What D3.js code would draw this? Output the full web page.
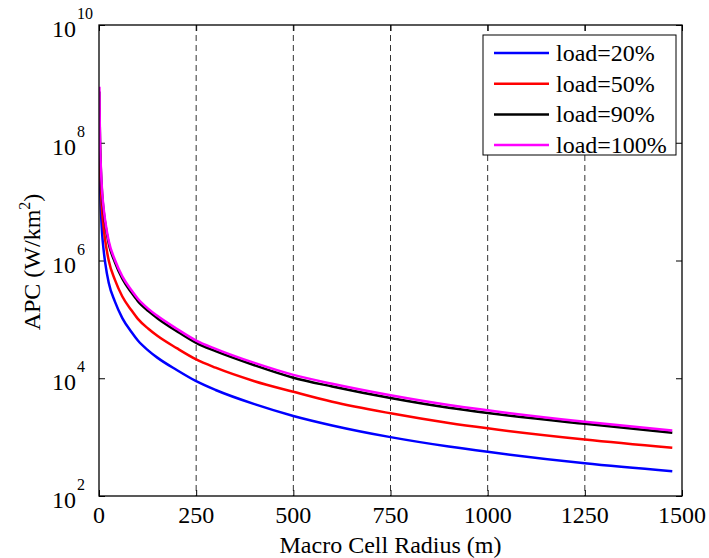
<!DOCTYPE html>
<html><head><meta charset="utf-8">
<script src="https://cdn.jsdelivr.net/npm/d3@7"></script>
<style>
body{margin:0;background:#fff;}
svg{display:block;}
svg text{font-family:"Liberation Serif","DejaVu Serif",serif;}
</style></head>
<body><svg id="chart" width="709" height="558" font-family="Liberation Serif, DejaVu Serif, serif"></svg>
<script>
const radius = [1,2,3,5,8,12,16,25,41,60,84,100,127,150,200,250,300,400,500,600,750,900,1000,1250,1475];
const load20 = [1.58e8,3.98e7,1.78e7,6.92e6,2.88e6,1.48e6,9.12e5,4.17e5,2.0e5,1.05e5,6.03e4,4.37e4,2.95e4,2.24e4,1.38e4,8.91e3,6.31e3,3.63e3,2.29e3,1.58e3,1.0e3,692,562,359,263];
const load50 = [3.98e8,1.0e8,4.27e7,1.66e7,6.92e6,3.55e6,2.19e6,1.0e6,4.68e5,2.45e5,1.41e5,1.02e5,6.92e4,5.25e4,3.24e4,2.09e4,1.51e4,8.91e3,5.89e3,3.98e3,2.54e3,1.74e3,1.41e3,912,661];
const load90 = [7.41e8,1.86e8,8.32e7,3.24e7,1.35e7,6.92e6,4.27e6,1.95e6,9.33e5,4.9e5,2.82e5,2.04e5,1.38e5,1.05e5,6.31e4,3.98e4,2.88e4,1.66e4,1.02e4,7.24e3,4.62e3,3.16e3,2.57e3,1.68e3,1.19e3];
const load100 = [8.91e8,2.09e8,9.12e7,3.55e7,1.48e7,7.59e6,4.68e6,2.14e6,1.02e6,5.37e5,3.09e5,2.24e5,1.51e5,1.15e5,6.92e4,4.37e4,3.16e4,1.82e4,1.14e4,8.04e3,5.13e3,3.51e3,2.85e3,1.82e3,1.29e3];
const seriesNames = ["load=20%","load=50%","load=90%","load=100%"];
const seriesColors = ["#0000ff","#ff0000","#000000","#ff00ff"];
const xTicks = [0,250,500,750,1000,1250,1500];
const gridTicks = [250,500,750,1000,1250];
const yTicks = [1e2,1e4,1e6,1e8,1e10];
const yExponents = ["2","4","6","8","10"];
const xLabel = "Macro Cell Radius (m)";

const FONT = "Liberation Serif, DejaVu Serif, serif";
const FS = 24, SUP = 16;
const svg = d3.select("#chart");
const L=99, R=682, T=25, B=496;
const x = d3.scaleLinear().domain([0,1500]).range([L,R]);
const y = d3.scaleLog().domain([1e2,1e10]).range([B,T]);

svg.append("defs").append("clipPath").attr("id","clip")
  .append("rect").attr("x",L).attr("y",T).attr("width",R-L).attr("height",B-T);

// grid
svg.append("g").selectAll("line").data(gridTicks).join("line")
  .attr("x1",d=>x(d)).attr("x2",d=>x(d)).attr("y1",T).attr("y2",B)
  .attr("stroke","#333").attr("stroke-width",1).attr("stroke-dasharray","6,4");

// axes with inward ticks
const tl = 6;
function styleAxis(g){ g.select(".domain").remove(); g.selectAll(".tick line").attr("stroke","#000").attr("stroke-width",1); g.selectAll(".tick text").remove(); }
svg.append("g").attr("transform",`translate(0,${B})`).call(d3.axisBottom(x).tickValues(xTicks).tickSize(-tl)).call(styleAxis);
svg.append("g").attr("transform",`translate(0,${T})`).call(d3.axisTop(x).tickValues(xTicks).tickSize(-tl)).call(styleAxis);
svg.append("g").attr("transform",`translate(${L},0)`).call(d3.axisLeft(y).tickValues(yTicks).tickSize(-tl)).call(styleAxis);
svg.append("g").attr("transform",`translate(${R},0)`).call(d3.axisRight(y).tickValues(yTicks).tickSize(-tl)).call(styleAxis);

// lines
const series = [load20,load50,load90,load100];
const line = d3.line().x((d,i)=>x(radius[i])).y(d=>y(d)).curve(d3.curveMonotoneX);
const lg = svg.append("g").attr("clip-path","url(#clip)");
series.forEach((s,k)=>{
  lg.append("path").datum(s).attr("d",line).attr("fill","none")
    .attr("stroke",seriesColors[k]).attr("stroke-width",2.5).attr("stroke-linejoin","round");
});

// frame
svg.append("rect").attr("x",L).attr("y",T).attr("width",R-L).attr("height",B-T)
  .attr("fill","none").attr("stroke","#000").attr("stroke-width",1.3);

// x tick labels
svg.append("g").selectAll("text").data(xTicks).join("text")
  .attr("x",d=>x(d)).attr("y",B+27).attr("text-anchor","middle")
  .attr("font-family",FONT).attr("font-size",FS).text(d=>d);

// y tick labels
const yl = svg.append("g");
yTicks.forEach((t,i)=>{
  const ty = y(t);
  yl.append("text").attr("x",76).attr("y",ty+12).attr("text-anchor","end").attr("font-family",FONT).attr("font-size",FS).text("10");
  yl.append("text").attr("x",77).attr("y",ty-6).attr("text-anchor","start").attr("font-family",FONT).attr("font-size",SUP).text(yExponents[i]);
});

// axis titles
svg.append("text").attr("x",(L+R)/2).attr("y",553).attr("text-anchor","middle").attr("font-family",FONT).attr("font-size",FS).text(xLabel);
const yt = svg.append("text").attr("transform","translate(40,262) rotate(-90)").attr("text-anchor","middle").attr("font-family",FONT).attr("font-size",FS);
yt.append("tspan").text("APC (W/km");
yt.append("tspan").attr("font-size",SUP).attr("dy",-10).text("2");
yt.append("tspan").attr("dy",10).text(")");

// legend
const legX=483, legY=35, legW=193, legH=120;
const leg = svg.append("g");
leg.append("rect").attr("x",legX).attr("y",legY).attr("width",legW).attr("height",legH)
  .attr("fill","#fff").attr("stroke","#000").attr("stroke-width",1);
seriesNames.forEach((n,k)=>{
  const ly = 53 + k*30.7;
  leg.append("line").attr("x1",494).attr("x2",549).attr("y1",ly).attr("y2",ly)
    .attr("stroke",seriesColors[k]).attr("stroke-width",2.5);
  leg.append("text").attr("x",556).attr("y",ly+8).attr("font-family",FONT).attr("font-size",FS).text(n);
});
</script></body></html>
